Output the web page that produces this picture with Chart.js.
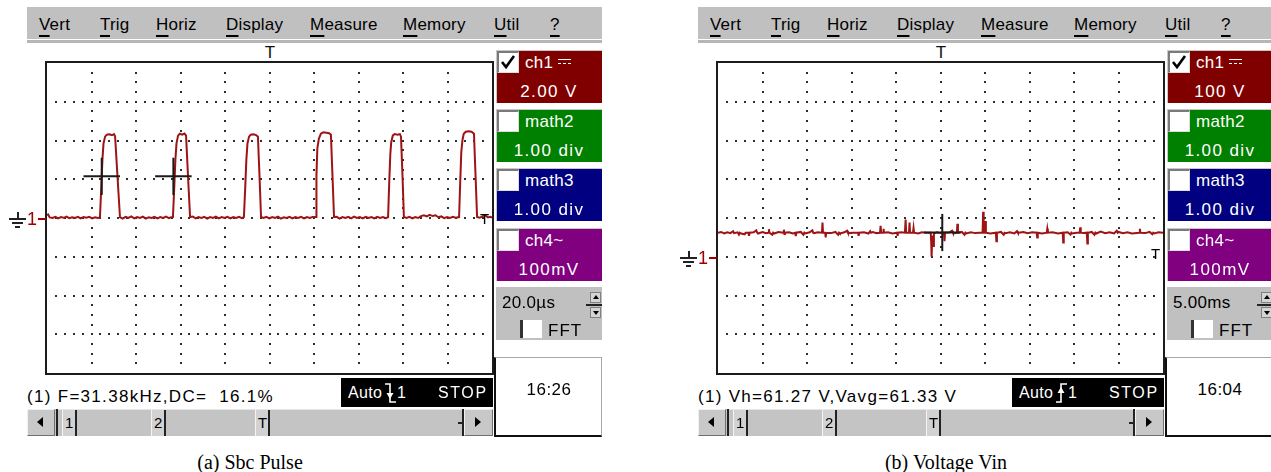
<!DOCTYPE html>
<html>
<head>
<meta charset="utf-8">
<script src="https://cdn.jsdelivr.net/npm/chart.js@4.4.1/dist/chart.umd.min.js"></script>
<style>
  html, body { margin: 0; padding: 0; background: #fff; }
  body { width: 1271px; height: 472px; overflow: hidden; position: relative;
         font-family: "Liberation Sans", Arial, sans-serif; color: #000; }
  .panel { position: absolute; top: 0; width: 610px; height: 472px; }
  .caption { position: absolute; font-family: "Liberation Serif", "Times New Roman", serif;
             font-size: 20px; line-height: 20px; white-space: nowrap; transform: translateX(-50%); }
  u { text-decoration: underline; text-underline-offset: 5px; text-decoration-thickness: 1.5px; }
</style>
</head>
<body>
<div id="scopeA" class="panel" style="left:0px"></div>
<div id="scopeB" class="panel" style="left:671px"></div>
<div class="caption" style="left:250px;top:452px">(a) Sbc Pulse</div>
<div class="caption" style="left:946px;top:452px">(b) Voltage Vin</div>

<script>
// ---- captured waveforms --------------------------------------------------
// Sbc pulse, channel 1: [time µs, volts]
const pulseTrace = [
  [0,0.14],[0.5,0.18],[1.2,0.03],[2.5,0.0],[3.8,0.06],[5.0,-0.02],[6.3,0.05],[7.5,0.01],[8.8,0.07],[10.0,-0.01],
  [11.3,0.04],[12.6,0.0],[13.9,0.06],[15.1,-0.02],[16.4,0.05],[17.7,0.01],[19.0,0.06],[20.3,-0.02],[21.6,0.04],[22.8,0.0],
  [23.8,0.03],[24.4,1.6],[24.9,3.0],[25.4,3.85],[26.1,4.2],[26.9,4.3],[28.0,4.32],[29.2,4.27],[30.1,4.33],[30.6,4.22],[31.7,2.1],[32.8,0.04],
  [34.0,-0.03],[35.3,0.06],[36.6,0.0],[37.9,0.08],[39.2,-0.02],[40.5,0.05],[41.8,0.0],[43.1,0.07],[44.4,-0.03],[45.7,0.04],
  [47.0,0.0],[48.3,0.06],[49.6,-0.02],[50.9,0.05],[52.2,0.0],[53.5,0.07],[54.8,-0.01],[55.8,0.04],
  [56.6,0.05],[57.2,1.6],[57.7,3.0],[58.2,3.85],[58.9,4.25],[59.7,4.35],[60.8,4.3],[61.8,4.36],[62.5,4.25],[63.4,2.1],[64.3,0.05],
  [65.5,0.08],[66.8,-0.02],[68.1,0.05],[69.4,0.0],[70.7,0.06],[72.0,-0.03],[73.3,0.05],[74.6,0.0],[75.9,0.07],[77.2,-0.02],
  [78.5,0.05],[79.8,0.0],[81.1,0.06],[82.4,-0.02],[83.7,0.05],[85.0,0.0],[86.3,0.06],[87.6,-0.01],
  [88.5,0.05],[89.1,1.6],[89.6,3.0],[90.1,3.85],[90.8,4.2],[91.6,4.3],[92.8,4.32],[94.0,4.28],[94.8,4.2],[95.5,2.2],[96.2,0.05],
  [97.3,0.0],[98.6,0.06],[99.9,-0.02],[101.2,0.05],[102.5,0.0],[103.8,0.07],[105.1,-0.03],[106.4,0.04],[107.7,0.0],[109.0,0.06],
  [110.3,-0.02],[111.6,0.05],[112.9,0.0],[114.2,0.06],[115.5,-0.02],[116.8,0.05],[118.1,0.0],[119.4,0.05],
  [120.9,0.05],[121.1,2.2],[121.5,3.6],[122.2,4.1],[123.1,4.35],[124.2,4.42],[125.5,4.4],[126.8,4.38],[127.6,4.3],[128.3,2.2],[129.0,0.05],
  [130.2,0.06],[131.5,-0.03],[132.8,0.05],[134.1,0.0],[135.4,0.06],[136.7,-0.02],[138.0,0.07],[139.3,0.0],[140.6,0.05],
  [141.9,-0.02],[143.2,0.06],[144.5,0.0],[145.8,0.05],[147.1,-0.02],[148.4,0.06],[149.7,0.0],[151.0,0.05],[152.3,-0.01],
  [153.3,0.05],[153.8,1.8],[154.3,3.3],[154.7,3.9],[155.4,4.25],[156.2,4.33],[157.5,4.3],[158.6,4.33],[159.1,4.2],[159.8,2.1],[160.4,0.05],
  [161.6,0.0],[162.9,0.06],[164.2,-0.02],[165.5,0.05],[166.8,0.0],[168.1,0.1],[169.4,0.14],[170.7,0.08],[172.0,0.16],
  [173.3,0.1],[174.6,0.14],[175.9,0.04],[177.2,0.08],[178.5,-0.01],[179.8,0.05],[181.1,0.0],[182.4,0.06],[183.7,0.02],
  [185.2,0.05],[185.7,1.8],[186.2,3.4],[186.7,4.0],[187.3,4.35],[188.2,4.45],[189.5,4.48],[190.8,4.45],[191.9,4.35],[192.6,2.2],[193.3,0.05],
  [194.4,0.02],[195.6,0.07],[196.4,0.15],[197.2,0.12],[198.2,0.03],[199.2,0.06],[200,0.02]
];
const pulseCursorTimes = [24.6, 56.8];   // µs, measurement markers on rising edges
const pulseCursorLevel = 2.15;           // V, 50 % level

// Input voltage Vin, channel 1: [time ms, volts]
const vinTrace = [
  [0,62],[0.35,64],[0.7,60],[1.05,63],[1.4,61],[1.7,66],[1.8,61],[2.2,63],[2.35,57],[2.45,62],[2.6,60],[3.0,58],[3.1,62],[3.42,62],[3.48,54],[3.55,62],
  [4.0,63],[4.3,68],[4.4,62],[4.5,60],[5.0,64],[5.4,61],[5.66,62],[5.72,71],[5.78,62],[6.1,57],[6.2,62],[6.3,60],[6.8,64],[7.34,62],[7.4,70],[7.46,59],[7.52,62],
  [8.0,63],[8.4,60],[8.68,62],[8.74,53],[8.8,62],[9.3,64],[9.6,57],[9.7,62],[9.8,60],[10.3,63],[10.6,68],[10.7,62],[10.8,61],[11.2,63],[11.68,62],[11.74,88],[11.8,62],
  [12.04,62],[12.1,50],[12.16,62],[12.7,61],[13.2,64],[13.5,57],[13.6,62],[13.7,60],[14.2,63],[14.5,67],[14.6,62],[14.7,61],[15.2,62],[15.74,62],[15.8,54],[15.86,62],
  [16.4,63],[16.9,60],[17.1,66],[17.2,62],[17.4,64],[17.8,61],[18.2,62],[18.27,80],[18.33,62],[18.55,62],[18.6,72],[18.66,62],[19.1,63],[19.6,60],
  [20.12,62],[20.18,54],[20.24,62],[20.6,63],[21.0,62],[21.08,96],[21.14,62],[21.46,62],[21.52,88],[21.58,62],[21.91,62],[21.97,74],[22.03,62],
  [22.5,60],[22.9,63],[23.4,62],[23.9,62],[23.96,35],[24.0,0],[24.06,40],[24.12,55],[24.2,28],[24.26,60],[24.6,63],[25.0,61],
  [25.39,62],[25.45,40],[25.51,62],[26.0,63],[26.3,67],[26.4,62],[26.5,60],[26.84,62],[26.9,85],[26.96,62],[27.4,64],[27.7,57],[27.8,62],[27.9,60],[28.4,63],[28.9,61],
  [29.4,62],[29.73,62],[29.79,116],[29.85,62],[29.98,62],[30.04,92],[30.1,62],[30.6,60],[31.22,62],[31.28,40],[31.34,62],
  [31.8,64],[32.1,57],[32.2,62],[32.3,61],[32.8,63],[33.3,60],[33.6,66],[33.7,62],[33.8,62],[34.3,64],[34.8,61],[35.3,63],[35.81,62],[35.87,50],[35.93,62],[36.4,60],
  [36.94,62],[37.0,72],[37.06,62],[37.6,63],[38.2,60],[38.73,62],[38.79,37],[38.85,62],[39.3,63],[39.6,57],[39.7,62],[39.8,60],[40.3,62],
  [40.64,62],[40.7,76],[40.76,62],[41.1,61],[41.44,62],[41.5,34],[41.56,62],[42.0,64],[42.3,57],[42.4,62],[42.5,60],[43.0,65],[43.5,61],[44.0,63],
  [44.5,60],[44.8,67],[44.9,62],[45.0,64],[45.5,61],[46.0,63],[46.5,60],[47.34,62],[47.4,72],[47.46,62],[48.0,61],[48.5,64],[48.8,58],[48.9,62],[49.0,60],[49.5,63],[50,62]
];
const vinCursorTimes = [25.2];   // ms
const vinCursorLevel = 62.6;     // V

// ---- screen labels -------------------------------------------------------
const menuItems = ['Vert', 'Trig', 'Horiz', 'Display', 'Measure', 'Memory', 'Util', '?'];
const channelNames = ['ch1', 'math2', 'math3', 'ch4~'];
const pulseChannelScales = ['2.00 V', '1.00 div', '1.00 div', '100mV'];
const vinChannelScales = ['100 V', '1.00 div', '1.00 div', '100mV'];
const scrollMarks = ['1', '2', 'T'];

// ---- styling --------------------------------------------------------------
const channelColors = ['#800000', '#008000', '#000080', '#800080'];
const traceColor = '#9e1414';
const menuX = [39, 100, 156, 226, 310, 403, 494, 550];

// dotted graticule drawn from the chart's own scales
const graticule = {
  id: 'graticule',
  beforeDatasetsDraw(chart, args, o) {
    const { ctx, scales: { x, y } } = chart;
    ctx.save();
    ctx.fillStyle = '#2e2e2e';
    const dot = (px, py) => ctx.fillRect(Math.round(px) - 1, Math.round(py) - 1, 2, 2);
    const nx = o.xDivs * o.xSub, ny = o.yDivs * o.ySub;
    const xv = i => o.xMin + (o.xMax - o.xMin) * i / nx;
    const yv = j => o.yMin + (o.yMax - o.yMin) * j / ny;
    for (let d = 1; d < o.yDivs; d++) {
      const py = y.getPixelForValue(yv(d * o.ySub));
      for (let i = 1; i < nx; i++) dot(x.getPixelForValue(xv(i)), py);
    }
    for (let d = 1; d < o.xDivs; d++) {
      const px = x.getPixelForValue(xv(d * o.xSub));
      for (let j = 1; j < ny; j++) dot(px, y.getPixelForValue(yv(j)));
    }
    ctx.restore();
  }
};

function el(parent, css, text) {
  const d = document.createElement('div');
  d.style.cssText = 'position:absolute;' + css;
  if (text != null) d.textContent = text;
  parent.appendChild(d);
  return d;
}
// text placed by its baseline
function label(parent, text, x, base, size, css) {
  return el(parent, `left:${x}px;top:${(base - 0.8465 * size).toFixed(1)}px;font-size:${size}px;` +
    `line-height:${size}px;white-space:pre;${css || ''}`, text);
}
function triangle(parent, x, y, dir, w, h, color) {
  const c = color || '#000';
  let css = `left:${x}px;top:${y}px;width:0;height:0;border-style:solid;`;
  if (dir === 'left') css += `border-width:${h / 2}px ${w}px ${h / 2}px 0;border-color:transparent ${c} transparent transparent;`;
  if (dir === 'right') css += `border-width:${h / 2}px 0 ${h / 2}px ${w}px;border-color:transparent transparent transparent ${c};`;
  if (dir === 'up') css += `border-width:0 ${w / 2}px ${h}px ${w / 2}px;border-color:transparent transparent ${c} transparent;`;
  if (dir === 'down') css += `border-width:${h}px ${w / 2}px 0 ${w / 2}px;border-color:${c} transparent transparent transparent;`;
  return el(parent, css);
}

function buildScope(root, s) {
  // menu bar
  el(root, 'left:27px;top:7px;width:575px;height:32px;background:#c0c0c0;');
  el(root, 'left:27px;top:40px;width:575px;height:3px;background:#b6b6b6;');
  menuItems.forEach((m, i) => {
    const d = label(root, '', menuX[i], 30, 17, 'letter-spacing:0.2px;');
    d.innerHTML = '<u>' + m[0] + '</u>' + m.slice(1);
  });
  // trigger position mark
  label(root, 'T', 270, 58, 17, 'transform:translateX(-50%);color:#111;');

  // graticule frame and canvas
  el(root, 'left:45px;top:61px;width:449px;height:314px;box-sizing:border-box;border:2px solid #1c1c1c;');
  const cv = document.createElement('canvas');
  cv.width = 445; cv.height = 310;
  cv.style.cssText = 'position:absolute;left:47px;top:63px;';
  root.appendChild(cv);

  const divX = (s.xMax - s.xMin) / 10, divY = (s.yMax - s.yMin) / 8;
  const datasets = [{
    data: s.trace.map(([x, y]) => ({ x, y })),
    borderColor: traceColor, borderWidth: 2, pointRadius: 0, tension: 0, order: 2
  }];
  s.cursorTimes.forEach(t => {
    const hw = 0.41 * divX, hh = 0.48 * divY;
    datasets.push({ data: [{ x: t - hw, y: s.cursorLevel }, { x: t + hw, y: s.cursorLevel }],
      borderColor: '#1a1a1a', borderWidth: 2, pointRadius: 0, order: 1 });
    datasets.push({ data: [{ x: t, y: s.cursorLevel - hh }, { x: t, y: s.cursorLevel + hh }],
      borderColor: '#1a1a1a', borderWidth: 2, pointRadius: 0, order: 1 });
  });
  const chart = new Chart(cv, {
    type: 'line',
    data: { datasets },
    options: {
      responsive: false, animation: false, events: [],
      layout: { padding: 0 },
      plugins: {
        legend: { display: false }, tooltip: { enabled: false },
        graticule: { xMin: s.xMin, xMax: s.xMax, yMin: s.yMin, yMax: s.yMax, xDivs: 10, yDivs: 8, xSub: 5, ySub: 4 }
      },
      scales: {
        x: { type: 'linear', display: false, min: s.xMin, max: s.xMax },
        y: { type: 'linear', display: false, min: s.yMin, max: s.yMax }
      }
    },
    plugins: [graticule]
  });

  // ground reference marker at 0 V
  const g = 63 + chart.scales.y.getPixelForValue(0);
  el(root, `left:17px;top:${g - 6}px;width:2px;height:6px;background:#222;`);
  el(root, `left:9px;top:${g}px;width:17px;height:2px;background:#222;`);
  el(root, `left:12px;top:${g + 4}px;width:11px;height:2px;background:#222;`);
  el(root, `left:15px;top:${g + 8}px;width:5px;height:2px;background:#222;`);
  label(root, '1', 27, g + 7, 18, 'color:#a00000;');
  el(root, `left:38px;top:${g}px;width:8px;height:2px;background:#a00000;`);
  // trigger level mark at the right edge
  label(root, 'T', 480, s.trigMarkTop + 12, 15, '');

  // channel buttons
  const tops = [50, 109, 168, 228];
  channelNames.forEach((n, i) => {
    const t = tops[i];
    el(root, `left:496px;top:${t}px;width:106px;height:53px;background:${channelColors[i]};` +
      'box-sizing:border-box;border-top:1px solid #c8c8c8;border-left:1px solid #c8c8c8;');
    const cb = el(root, `left:497px;top:${t + 1}px;width:22px;height:22px;background:#fff;box-sizing:border-box;` +
      'border-top:2px solid #7a7a7a;border-left:2px solid #7a7a7a;border-right:1px solid #ddd;border-bottom:1px solid #ddd;');
    if (i === 0) {
      cb.innerHTML = '<svg width="18" height="18" style="position:absolute;left:0;top:0"><polyline points="3,9 7,14 15,3" fill="none" stroke="#000" stroke-width="2.6"/></svg>';
    }
    label(root, n, 525, t + 18, 17, 'color:#fff;letter-spacing:0.3px;');
    if (i === 0) {
      el(root, `left:558px;top:${t + 9}px;width:13px;height:5px;box-sizing:border-box;` +
        'border-top:1.5px solid #fff;border-bottom:1.5px dashed #fff;');
    }
    label(root, s.scales[i], 549, t + 47, 17, 'color:#fff;letter-spacing:1.4px;transform:translateX(-50%);');
  });

  // timebase / FFT box
  el(root, 'left:496px;top:287px;width:106px;height:53px;background:#c0c0c0;');
  label(root, s.timebase, 502, 308, 17, 'letter-spacing:0.3px;');
  el(root, 'left:590px;top:292px;width:11px;height:11px;background:#d4d4d4;box-sizing:border-box;border:1px solid #808080;');
  triangle(root, 592.5, 295, 'up', 6, 4);
  el(root, 'left:586px;top:304px;width:16px;height:2px;background:#222;');
  el(root, 'left:590px;top:307px;width:11px;height:11px;background:#d4d4d4;box-sizing:border-box;border:1px solid #808080;');
  triangle(root, 592.5, 311, 'down', 6, 4);
  el(root, 'left:520px;top:320px;width:22px;height:18px;background:#fff;box-sizing:border-box;border-left:3px solid #333;');
  label(root, 'FFT', 548, 336, 17, 'letter-spacing:1px;');

  // clock box
  el(root, 'left:494px;top:357px;width:108px;height:80px;background:#fff;box-sizing:border-box;' +
    'border-top:1px solid #a8a8a8;border-right:1px solid #a8a8a8;border-left:2px solid #111;border-bottom:2px solid #111;');
  label(root, s.clock, 549, 395, 17, 'letter-spacing:0.5px;transform:translateX(-50%);');

  // measurement line and acquisition state
  label(root, s.status, 27, 402, 17, 'letter-spacing:1.3px;');
  el(root, 'left:341px;top:378px;width:152px;height:29px;background:#000;');
  label(root, 'Auto', 348, 398, 16, 'color:#fff;letter-spacing:0.3px;');
  const slope = el(root, 'left:385px;top:381px;width:12px;height:24px;');
  slope.innerHTML = s.rising
    ? '<svg width="12" height="24"><polyline points="0,21 5,21 5,3 11,3" fill="none" stroke="#fff" stroke-width="1.6"/><polygon points="1.5,12 5,6 8.5,12" fill="#fff"/></svg>'
    : '<svg width="12" height="24"><polyline points="0,3 5,3 5,21 11,21" fill="none" stroke="#fff" stroke-width="1.6"/><polygon points="1.5,12 5,18 8.5,12" fill="#fff"/></svg>';
  label(root, '1', 397, 398, 16, 'color:#fff;');
  label(root, 'STOP', 438, 398, 16, 'color:#fff;letter-spacing:1.6px;');

  // horizontal position bar
  el(root, 'left:27px;top:409px;width:466px;height:27px;background:#c4c4c4;');
  el(root, 'left:27px;top:409px;width:28px;height:27px;background:#c8c8c8;box-sizing:border-box;' +
    'border-top:1px solid #f0f0f0;border-left:1px solid #f0f0f0;border-bottom:1px solid #707070;border-right:1px solid #707070;');
  triangle(root, 37, 417, 'left', 6, 11);
  el(root, 'left:56px;top:409px;width:2px;height:27px;background:#222;');
  el(root, 'left:58px;top:409px;width:404px;height:1px;background:#e6e6e6;');
  const markX = [62, 151, 255];
  scrollMarks.forEach((m, i) => {
    el(root, `left:${markX[i]}px;top:410px;width:15px;height:26px;background:#d2d2d2;box-sizing:border-box;` +
      'border-left:1px solid #f4f4f4;border-right:2px solid #222;');
    label(root, m, markX[i] + 3, 428, 15, '');
  });
  el(root, 'left:458px;top:422px;width:5px;height:1.5px;background:#222;');
  el(root, 'left:462px;top:409px;width:2px;height:27px;background:#222;');
  el(root, 'left:464px;top:409px;width:29px;height:27px;background:#c8c8c8;box-sizing:border-box;' +
    'border-top:1px solid #f0f0f0;border-left:1px solid #f0f0f0;border-bottom:1px solid #707070;border-right:1px solid #707070;');
  triangle(root, 475, 417, 'right', 6, 11);
  return chart;
}

buildScope(document.getElementById('scopeA'), {
  trace: pulseTrace, cursorTimes: pulseCursorTimes, cursorLevel: pulseCursorLevel,
  xMin: 0, xMax: 200, yMin: -8, yMax: 8,
  scales: pulseChannelScales, timebase: '20.0µs', clock: '16:26',
  status: '(1) F=31.38kHz,DC=  16.1%', rising: false, trigMarkTop: 212
});
buildScope(document.getElementById('scopeB'), {
  trace: vinTrace, cursorTimes: vinCursorTimes, cursorLevel: vinCursorLevel,
  xMin: 0, xMax: 50, yMin: -300, yMax: 500,
  scales: vinChannelScales, timebase: '5.00ms', clock: '16:04',
  status: '(1) Vh=61.27 V,Vavg=61.33 V', rising: true, trigMarkTop: 247
});
</script>
</body>
</html>
